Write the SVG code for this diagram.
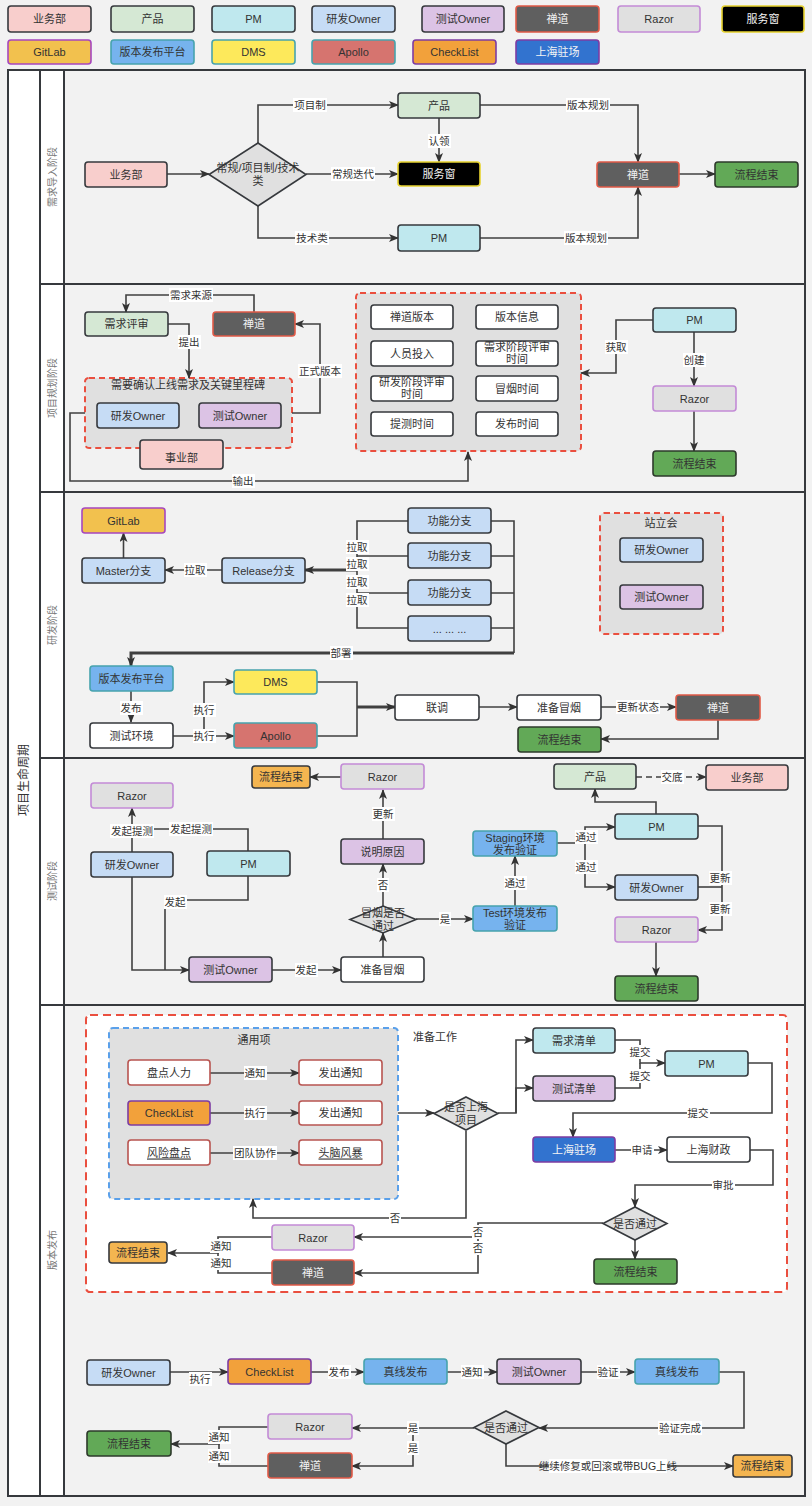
<svg xmlns="http://www.w3.org/2000/svg" width="812" height="1506" viewBox="0 0 812 1506">
<defs>
<marker id="ar" markerWidth="10" markerHeight="8" refX="9" refY="4" orient="auto" markerUnits="userSpaceOnUse">
<path d="M0,0 L10,4 L0,8 L2.5,4 z" fill="#333"/>
</marker>
<style>
text{font-family:"Liberation Sans","Noto Sans CJK SC",sans-serif;font-size:11px;fill:#333;text-anchor:middle;dominant-baseline:central}
.tw{fill:#f4f4f4}
.n rect,.n path{stroke-width:1.6}
.biz{fill:#f8cecc;stroke:#36393d}
.prod{fill:#d5e8d4;stroke:#36393d}
.pm{fill:#bfe8ee;stroke:#36393d}
.dev{fill:#c6dcf5;stroke:#36393d}
.qa{fill:#dcc3e5;stroke:#36393d}
.zen{fill:#5f5f5f;stroke:#e05a47}
.razor{fill:#e0e0e0;stroke:#c38bd6}
.svc{fill:#000;stroke:#e6d22f}
.git{fill:#f2c14e;stroke:#a646be}
.plat{fill:#76b3ee;stroke:#47a3ad}
.dms{fill:#fde95b;stroke:#47a3ad}
.apollo{fill:#d6746f;stroke:#47a3ad}
.ck{fill:#f2a13b;stroke:#7d3ca3}
.sh{fill:#3273cf;stroke:#7d3ca3}
.endg{fill:#62a957;stroke:#2d3a2b}
.endo{fill:#f4b550;stroke:#36393d}
.w{fill:#fff;stroke:#36393d}
.wr{fill:#fff;stroke:#b85450}
.dia{fill:#e0e0e0;stroke:#36393d}
.grp{fill:#e0e0e0;stroke:#ea4f3f;stroke-width:2;stroke-dasharray:6 4}
.grpw{fill:#fff;stroke:#ea4f3f;stroke-width:2;stroke-dasharray:8 5}
.grpb{fill:#e0e0e0;stroke:#5aa0ea;stroke-width:2;stroke-dasharray:6 4}
.c path{fill:none;stroke:#404040;stroke-width:1.6}
.c path.a{marker-end:url(#ar)}
.c path.k{stroke-width:3}
.c path.d{stroke-dasharray:6 4}
.lbl rect{fill:#fff;stroke:none}
.lbl text{font-size:10.5px}
.lane{fill:none;stroke:#36393d;stroke-width:2}
.ln{font-size:10px;fill:#777}
</style>
</defs>
<rect x="0" y="0" width="812" height="1506" fill="#f2f2f2"/>

<!-- legend -->
<g id="legend">
<g class="n" id="lg-biz"><rect class="biz" x="8" y="6" width="83" height="26" rx="3"/><text x="49.5" y="19">业务部</text></g>
<g class="n" id="lg-prod"><rect class="prod" x="111" y="6" width="83" height="26" rx="3"/><text x="152.5" y="19">产品</text></g>
<g class="n" id="lg-pm"><rect class="pm" x="212" y="6" width="83" height="26" rx="3"/><text x="253.5" y="19">PM</text></g>
<g class="n" id="lg-dev"><rect class="dev" x="312" y="6" width="83" height="26" rx="3"/><text x="353.5" y="19">研发Owner</text></g>
<g class="n" id="lg-qa"><rect class="qa" x="422" y="6" width="82" height="26" rx="3"/><text x="463" y="19">测试Owner</text></g>
<g class="n" id="lg-zen"><rect class="zen" x="516" y="6" width="83" height="26" rx="3"/><text class="tw" x="557.5" y="19">禅道</text></g>
<g class="n" id="lg-razor"><rect class="razor" x="618" y="6" width="82" height="26" rx="3"/><text x="659" y="19">Razor</text></g>
<g class="n" id="lg-svc"><rect class="svc" x="722" y="6" width="82" height="26" rx="3"/><text class="tw" x="763" y="19">服务窗</text></g>
<g class="n" id="lg-git"><rect class="git" x="8" y="40" width="83" height="24" rx="3"/><text x="49.5" y="52">GitLab</text></g>
<g class="n" id="lg-plat"><rect class="plat" x="111" y="40" width="83" height="24" rx="3"/><text x="152.5" y="52">版本发布平台</text></g>
<g class="n" id="lg-dms"><rect class="dms" x="212" y="40" width="83" height="24" rx="3"/><text x="253.5" y="52">DMS</text></g>
<g class="n" id="lg-apollo"><rect class="apollo" x="312" y="40" width="83" height="24" rx="3"/><text x="353.5" y="52">Apollo</text></g>
<g class="n" id="lg-ck"><rect class="ck" x="413" y="40" width="83" height="24" rx="3"/><text x="454.5" y="52">CheckList</text></g>
<g class="n" id="lg-sh"><rect class="sh" x="516" y="40" width="83" height="24" rx="3"/><text class="tw" x="557.5" y="52">上海驻场</text></g>
</g>

<!-- lanes -->
<g id="lanes">
<rect x="8" y="70" width="797" height="1426" fill="#f2f2f2" stroke="none"/>
<rect x="8" y="70" width="56" height="1426" fill="#fff" stroke="none"/>
<rect class="lane" x="8" y="70" width="797" height="1426"/>
<path class="lane" d="M40,70 V1496 M64,70 V1496 M40,284 H805 M40,492 H805 M40,758 H805 M40,1005 H805"/>
<text x="24" y="780" transform="rotate(-90 24 780)" style="font-size:12px">项目生命周期</text>
<text class="ln" x="52" y="177" transform="rotate(-90 52 177)">需求导入阶段</text>
<text class="ln" x="52" y="388" transform="rotate(-90 52 388)">项目规划阶段</text>
<text class="ln" x="52" y="625" transform="rotate(-90 52 625)">研发阶段</text>
<text class="ln" x="52" y="881" transform="rotate(-90 52 881)">测试阶段</text>
<text class="ln" x="52" y="1250" transform="rotate(-90 52 1250)">版本发布</text>
</g>

<!-- containers -->
<g id="grp-milestone"><rect class="grp" x="85" y="378" width="207" height="70" rx="4"/><text x="188" y="385">需要确认上线需求及关键里程碑</text></g>
<g id="grp-info"><rect class="grp" x="356" y="293" width="225" height="158" rx="4"/></g>
<g id="grp-standup"><rect class="grp" x="600" y="513" width="123" height="121" rx="4"/><text x="661" y="523">站立会</text></g>
<g id="grp-release"><rect class="grpw" x="86" y="1015" width="701" height="277" rx="4"/><text x="435" y="1037">准备工作</text></g>
<g id="grp-common"><rect class="grpb" x="109" y="1028" width="289" height="171" rx="4"/><text x="254" y="1040">通用项</text></g>

<!-- connectors -->
<g id="connectors" class="c">
<!-- section 1 -->
<path class="a" d="M167,174 L209,174"/>
<path class="a" d="M258,143 L258,105 L398,105"/>
<path class="a" d="M306,174 L398,174"/>
<path class="a" d="M258,206 L258,238 L398,238"/>
<path class="a" d="M439,118 L439,162"/>
<path class="a" d="M480,105 L638,105 L638,162"/>
<path class="a" d="M480,238 L638,238 L638,187"/>
<path class="a" d="M679,174 L715,174"/>
<!-- section 2 -->
<path class="a" d="M254,312 L254,295 L126,295 L126,312"/>
<path class="a" d="M168,324 L189,324 L189,378"/>
<path class="a" d="M292,413 L320,413 L320,324 L295,324"/>
<path class="a" d="M85,413 L70,413 L70,481 L468,481 L468,452"/>
<path class="a" d="M653,320 L616,320 L616,373 L581,373"/>
<path class="a" d="M694,332 L694,386"/>
<path class="a" d="M694,411 L694,451"/>
<!-- section 3 -->
<path class="a" d="M123.5,558 L123.5,533"/>
<path class="a" d="M222,570 L165,570"/>
<path d="M408,521 L357,521 L357,628 L408,628 M408,556 L357,556 M408,593 L357,593"/>
<path class="a k" d="M357,570 L305,570"/>
<path d="M491,521 L514,521 L514,653 M491,556 L514,556 M491,593 L514,593 M491,628 L514,628"/>
<path class="a k" d="M514,653 L131,653 L131,666"/>
<path class="a" d="M131,691 L131,722"/>
<path class="a" d="M173,736 L234,736"/>
<path class="a" d="M204,736 L204,682 L234,682"/>
<path d="M317,682 L357,682 L357,736 L317,736"/>
<path class="a k" d="M357,707 L395,707"/>
<path class="a" d="M479,707 L517,707"/>
<path class="a" d="M601,707 L676,707"/>
<path class="a" d="M718,720 L718,739 L601,739"/>
<!-- section 4 -->
<path class="a" d="M132,852 L132,808"/>
<path d="M248,851 L248,829 L132,829"/>
<path class="a" d="M132,877 L132,970 L189,970"/>
<path d="M248,876 L248,900 L165,900 L165,970"/>
<path class="a" d="M272,970 L341,970"/>
<path class="a" d="M383,957 L383,933"/>
<path class="a" d="M383,907 L383,864"/>
<path class="a" d="M383,839 L383,790"/>
<path class="a" d="M341,777 L310,777"/>
<path class="a" d="M416,919 L473,919"/>
<path class="a" d="M515,906 L515,856"/>
<path class="a" d="M557,843 L585,843 L585,827 L615,827"/>
<path class="a" d="M585,843 L585,887 L615,887"/>
<path class="a d" d="M636,777 L706,777"/>
<path class="a" d="M656,814 L656,802 L595,802 L595,789"/>
<path class="a" d="M698,826 L722,826 L722,930 L698,930"/>
<path d="M698,887 L722,887"/>
<path class="a" d="M656,942 L656,976"/>
<!-- section 5 -->
<path class="a" d="M210,1073 L299,1073"/>
<path class="a" d="M210,1113 L299,1113"/>
<path class="a" d="M210,1153 L299,1153"/>
<path class="a" d="M398,1113 L434,1113"/>
<path class="a" d="M498,1113 L516,1113 L516,1040 L533,1040"/>
<path class="a" d="M516,1113 L516,1088 L533,1088"/>
<path class="a" d="M615,1040 L640,1040 L640,1063 L665,1063"/>
<path d="M615,1088 L640,1088 L640,1063"/>
<path class="a" d="M748,1063 L772,1063 L772,1113 L573,1113 L573,1137"/>
<path class="a" d="M615,1150 L667,1150"/>
<path class="a" d="M750,1150 L773,1150 L773,1185 L635,1185 L635,1207"/>
<path class="a" d="M635,1240 L635,1259"/>
<path class="a" d="M603,1223 L478,1223 L478,1237 L354,1237"/>
<path class="a" d="M478,1237 L478,1273 L354,1273"/>
<path class="a" d="M466,1131 L466,1218 L253,1218 L253,1199"/>
<path class="a" d="M272,1237 L218,1237 L218,1253 L168,1253"/>
<path d="M272,1273 L218,1273 L218,1253"/>
<path class="a" d="M170,1372 L228,1372"/>
<path class="a" d="M311,1372 L364,1372"/>
<path class="a" d="M447,1372 L497,1372"/>
<path class="a" d="M581,1372 L635,1372"/>
<path class="a" d="M719,1372 L744,1372 L744,1428 L539,1428"/>
<path class="a" d="M474,1428 L352,1428"/>
<path class="a" d="M413,1428 L413,1466 L352,1466"/>
<path class="a" d="M268,1427 L219,1427 L219,1444 L171,1444"/>
<path d="M268,1466 L219,1466 L219,1444"/>
<path class="a" d="M506,1444 L506,1466 L733,1466"/>

<!-- labels -->
<g class="lbl"><rect x="293" y="98" width="34" height="14"/><text x="310" y="105">项目制</text></g>
<g class="lbl"><rect x="331" y="167" width="44" height="14"/><text x="353" y="174">常规迭代</text></g>
<g class="lbl"><rect x="295" y="231" width="34" height="14"/><text x="312" y="238">技术类</text></g>
<g class="lbl"><rect x="428" y="134" width="23" height="14"/><text x="439" y="141">认领</text></g>
<g class="lbl"><rect x="566" y="98" width="44" height="14"/><text x="588" y="105">版本规划</text></g>
<g class="lbl"><rect x="564" y="231" width="44" height="14"/><text x="586" y="238">版本规划</text></g>
<g class="lbl"><rect x="169" y="288" width="44" height="14"/><text x="191" y="295">需求来源</text></g>
<g class="lbl"><rect x="178" y="335" width="23" height="14"/><text x="189" y="342">提出</text></g>
<g class="lbl"><rect x="298" y="364" width="44" height="14"/><text x="320" y="371">正式版本</text></g>
<g class="lbl"><rect x="232" y="474" width="23" height="14"/><text x="243" y="481">输出</text></g>
<g class="lbl"><rect x="605" y="340" width="23" height="14"/><text x="616" y="347">获取</text></g>
<g class="lbl"><rect x="683" y="353" width="23" height="14"/><text x="694" y="360">创建</text></g>
<g class="lbl"><rect x="184" y="563" width="23" height="14"/><text x="195" y="570">拉取</text></g>
<g class="lbl"><rect x="346" y="540" width="23" height="14"/><text x="357" y="547">拉取</text></g>
<g class="lbl"><rect x="346" y="557" width="23" height="14"/><text x="357" y="564">拉取</text></g>
<g class="lbl"><rect x="346" y="575" width="23" height="14"/><text x="357" y="582">拉取</text></g>
<g class="lbl"><rect x="346" y="593" width="23" height="14"/><text x="357" y="600">拉取</text></g>
<g class="lbl"><rect x="330" y="646" width="23" height="14"/><text x="341" y="653">部署</text></g>
<g class="lbl"><rect x="120" y="701" width="23" height="14"/><text x="131" y="708">发布</text></g>
<g class="lbl"><rect x="193" y="703" width="23" height="14"/><text x="204" y="710">执行</text></g>
<g class="lbl"><rect x="193" y="729" width="23" height="14"/><text x="204" y="736">执行</text></g>
<g class="lbl"><rect x="616" y="700" width="44" height="14"/><text x="638" y="707">更新状态</text></g>
<g class="lbl"><rect x="110" y="824" width="44" height="14"/><text x="132" y="831">发起提测</text></g>
<g class="lbl"><rect x="169" y="822" width="44" height="14"/><text x="191" y="829">发起提测</text></g>
<g class="lbl"><rect x="164" y="895" width="23" height="14"/><text x="175" y="902">发起</text></g>
<g class="lbl"><rect x="295" y="963" width="23" height="14"/><text x="306" y="970">发起</text></g>
<g class="lbl"><rect x="377" y="878" width="12" height="14"/><text x="383" y="885">否</text></g>
<g class="lbl"><rect x="372" y="807" width="23" height="14"/><text x="383" y="814">更新</text></g>
<g class="lbl"><rect x="439" y="912" width="12" height="14"/><text x="445" y="919">是</text></g>
<g class="lbl"><rect x="504" y="876" width="23" height="14"/><text x="515" y="883">通过</text></g>
<g class="lbl"><rect x="575" y="830" width="23" height="14"/><text x="586" y="837">通过</text></g>
<g class="lbl"><rect x="575" y="860" width="23" height="14"/><text x="586" y="867">通过</text></g>
<g class="lbl"><rect x="661" y="770" width="23" height="14"/><text x="672" y="777">交底</text></g>
<g class="lbl"><rect x="709" y="871" width="23" height="14"/><text x="720" y="878">更新</text></g>
<g class="lbl"><rect x="709" y="902" width="23" height="14"/><text x="720" y="909">更新</text></g>
<g class="lbl"><rect x="244" y="1066" width="23" height="14"/><text x="255" y="1073">通知</text></g>
<g class="lbl"><rect x="244" y="1106" width="23" height="14"/><text x="255" y="1113">执行</text></g>
<g class="lbl"><rect x="233" y="1146" width="44" height="14"/><text x="255" y="1153">团队协作</text></g>
<g class="lbl"><rect x="629" y="1045" width="23" height="14"/><text x="640" y="1052">提交</text></g>
<g class="lbl"><rect x="629" y="1069" width="23" height="14"/><text x="640" y="1076">提交</text></g>
<g class="lbl"><rect x="687" y="1106" width="23" height="14"/><text x="698" y="1113">提交</text></g>
<g class="lbl"><rect x="631" y="1143" width="23" height="14"/><text x="642" y="1150">申请</text></g>
<g class="lbl"><rect x="712" y="1178" width="23" height="14"/><text x="723" y="1185">审批</text></g>
<g class="lbl"><rect x="472" y="1225" width="12" height="14"/><text x="478" y="1232">否</text></g>
<g class="lbl"><rect x="472" y="1241" width="12" height="14"/><text x="478" y="1248">否</text></g>
<g class="lbl"><rect x="389" y="1211" width="12" height="14"/><text x="395" y="1218">否</text></g>
<g class="lbl"><rect x="210" y="1239" width="23" height="14"/><text x="221" y="1246">通知</text></g>
<g class="lbl"><rect x="210" y="1256" width="23" height="14"/><text x="221" y="1263">通知</text></g>
<g class="lbl"><rect x="189" y="1372" width="23" height="14"/><text x="200" y="1379">执行</text></g>
<g class="lbl"><rect x="328" y="1365" width="23" height="14"/><text x="339" y="1372">发布</text></g>
<g class="lbl"><rect x="461" y="1365" width="23" height="14"/><text x="472" y="1372">通知</text></g>
<g class="lbl"><rect x="597" y="1365" width="23" height="14"/><text x="608" y="1372">验证</text></g>
<g class="lbl"><rect x="658" y="1421" width="44" height="14"/><text x="680" y="1428">验证完成</text></g>
<g class="lbl"><rect x="407" y="1421" width="12" height="14"/><text x="413" y="1428">是</text></g>
<g class="lbl"><rect x="407" y="1441" width="12" height="14"/><text x="413" y="1448">是</text></g>
<g class="lbl"><rect x="208" y="1430" width="23" height="14"/><text x="219" y="1437">通知</text></g>
<g class="lbl"><rect x="208" y="1449" width="23" height="14"/><text x="219" y="1456">通知</text></g>
<g class="lbl"><rect x="549" y="1459" width="118" height="14"/><text x="608" y="1466">继续修复或回滚或带BUG上线</text></g>
</g>

<!-- section 1 nodes -->
<g class="n" id="s1-biz"><rect class="biz" x="85" y="162" width="82" height="25" rx="3"/><text x="126" y="174.5">业务部</text></g>
<g class="n" id="s1-dec"><path class="dia" d="M258,143 L306,174.5 L258,206 L209,174.5 z"/><text x="258" y="168">常规/项目制/技术</text><text x="258" y="181">类</text></g>
<g class="n" id="s1-prod"><rect class="prod" x="398" y="93" width="82" height="25" rx="3"/><text x="439" y="105.5">产品</text></g>
<g class="n" id="s1-svc"><rect class="svc" x="398" y="162" width="82" height="24" rx="3"/><text class="tw" x="439" y="174">服务窗</text></g>
<g class="n" id="s1-pm"><rect class="pm" x="398" y="225" width="82" height="26" rx="3"/><text x="439" y="238">PM</text></g>
<g class="n" id="s1-zen"><rect class="zen" x="597" y="162" width="82" height="25" rx="3"/><text class="tw" x="638" y="174.5">禅道</text></g>
<g class="n" id="s1-end"><rect class="endg" x="715" y="162" width="83" height="25" rx="3"/><text x="756.5" y="174.5">流程结束</text></g>

<!-- section 2 nodes -->
<g class="n" id="s2-review"><rect class="prod" x="85" y="312" width="83" height="24" rx="3"/><text x="126.5" y="324">需求评审</text></g>
<g class="n" id="s2-zen"><rect class="zen" x="213" y="312" width="82" height="24" rx="3"/><text class="tw" x="254" y="324">禅道</text></g>
<g class="n" id="s2-biz"><rect class="biz" x="140" y="440" width="83" height="29" rx="3"/><text x="181.5" y="458">事业部</text></g>
<g class="n" id="s2-dev"><rect class="dev" x="97" y="403" width="82" height="25" rx="3"/><text x="138" y="415.5">研发Owner</text></g>
<g class="n" id="s2-qa"><rect class="qa" x="199" y="403" width="82" height="25" rx="3"/><text x="240" y="415.5">测试Owner</text></g>
<g class="n" id="s2-i1"><rect class="w" x="371" y="305" width="82" height="24" rx="3"/><text x="412" y="317">禅道版本</text></g>
<g class="n" id="s2-i2"><rect class="w" x="476" y="305" width="82" height="24" rx="3"/><text x="517" y="317">版本信息</text></g>
<g class="n" id="s2-i3"><rect class="w" x="371" y="341" width="82" height="25" rx="3"/><text x="412" y="353.5">人员投入</text></g>
<g class="n" id="s2-i4"><rect class="w" x="476" y="341" width="82" height="25" rx="3"/><text x="517" y="347">需求阶段评审</text><text x="517" y="359">时间</text></g>
<g class="n" id="s2-i5"><rect class="w" x="371" y="376" width="82" height="25" rx="3"/><text x="412" y="382">研发阶段评审</text><text x="412" y="394">时间</text></g>
<g class="n" id="s2-i6"><rect class="w" x="476" y="376" width="82" height="25" rx="3"/><text x="517" y="388.5">冒烟时间</text></g>
<g class="n" id="s2-i7"><rect class="w" x="371" y="412" width="82" height="24" rx="3"/><text x="412" y="424">提测时间</text></g>
<g class="n" id="s2-i8"><rect class="w" x="476" y="412" width="82" height="24" rx="3"/><text x="517" y="424">发布时间</text></g>
<g class="n" id="s2-pm"><rect class="pm" x="653" y="308" width="83" height="24" rx="3"/><text x="694.5" y="320">PM</text></g>
<g class="n" id="s2-razor"><rect class="razor" x="653" y="386" width="83" height="25" rx="3"/><text x="694.5" y="398.5">Razor</text></g>
<g class="n" id="s2-end"><rect class="endg" x="653" y="451" width="83" height="25" rx="3"/><text x="694.5" y="463.5">流程结束</text></g>

<!-- section 3 nodes -->
<g class="n" id="s3-git"><rect class="git" x="82" y="508" width="83" height="25" rx="3"/><text x="123.5" y="520.5">GitLab</text></g>
<g class="n" id="s3-master"><rect class="dev" x="82" y="558" width="83" height="25" rx="3"/><text x="123.5" y="570.5">Master分支</text></g>
<g class="n" id="s3-release"><rect class="dev" x="222" y="558" width="83" height="25" rx="3"/><text x="263.5" y="570.5">Release分支</text></g>
<g class="n" id="s3-f1"><rect class="dev" x="408" y="508" width="83" height="25" rx="3"/><text x="449.5" y="520.5">功能分支</text></g>
<g class="n" id="s3-f2"><rect class="dev" x="408" y="543" width="83" height="25" rx="3"/><text x="449.5" y="555.5">功能分支</text></g>
<g class="n" id="s3-f3"><rect class="dev" x="408" y="580" width="83" height="25" rx="3"/><text x="449.5" y="592.5">功能分支</text></g>
<g class="n" id="s3-f4"><rect class="dev" x="408" y="616" width="83" height="25" rx="3"/><text x="449.5" y="628.5">... ... ...</text></g>
<g class="n" id="s3-dev"><rect class="dev" x="620" y="538" width="83" height="24" rx="3"/><text x="661.5" y="550">研发Owner</text></g>
<g class="n" id="s3-qa"><rect class="qa" x="620" y="585" width="83" height="24" rx="3"/><text x="661.5" y="597">测试Owner</text></g>
<g class="n" id="s3-plat"><rect class="plat" x="90" y="666" width="83" height="25" rx="3"/><text x="131.5" y="678.5">版本发布平台</text></g>
<g class="n" id="s3-env"><rect class="w" x="90" y="723" width="83" height="25" rx="3"/><text x="131.5" y="735.5">测试环境</text></g>
<g class="n" id="s3-dms"><rect class="dms" x="234" y="670" width="83" height="24" rx="3"/><text x="275.5" y="682">DMS</text></g>
<g class="n" id="s3-apollo"><rect class="apollo" x="234" y="723" width="83" height="25" rx="3"/><text x="275.5" y="735.5">Apollo</text></g>
<g class="n" id="s3-joint"><rect class="w" x="395" y="695" width="84" height="25" rx="3"/><text x="437" y="707.5">联调</text></g>
<g class="n" id="s3-smoke"><rect class="w" x="517" y="695" width="84" height="25" rx="3"/><text x="559" y="707.5">准备冒烟</text></g>
<g class="n" id="s3-zen"><rect class="zen" x="676" y="695" width="84" height="25" rx="3"/><text class="tw" x="718" y="707.5">禅道</text></g>
<g class="n" id="s3-end"><rect class="endg" x="518" y="727" width="83" height="25" rx="3"/><text x="559.5" y="739.5">流程结束</text></g>

<!-- section 4 nodes -->
<g class="n" id="s4-razor1"><rect class="razor" x="91" y="783" width="82" height="25" rx="3"/><text x="132" y="795.5">Razor</text></g>
<g class="n" id="s4-dev"><rect class="dev" x="91" y="852" width="82" height="25" rx="3"/><text x="132" y="864.5">研发Owner</text></g>
<g class="n" id="s4-pm"><rect class="pm" x="207" y="851" width="83" height="25" rx="3"/><text x="248.5" y="863.5">PM</text></g>
<g class="n" id="s4-qa"><rect class="qa" x="189" y="957" width="83" height="25" rx="3"/><text x="230.5" y="969.5">测试Owner</text></g>
<g class="n" id="s4-smoke"><rect class="w" x="341" y="957" width="83" height="25" rx="3"/><text x="382.5" y="969.5">准备冒烟</text></g>
<g class="n" id="s4-dec"><path class="dia" d="M383,906 L416,919.5 L383,933 L350,919.5 z"/><text x="383" y="913">冒烟是否</text><text x="383" y="926">通过</text></g>
<g class="n" id="s4-reason"><rect class="qa" x="341" y="839" width="83" height="25" rx="3"/><text x="382.5" y="851.5">说明原因</text></g>
<g class="n" id="s4-razor2"><rect class="razor" x="341" y="764" width="83" height="25" rx="3"/><text x="382.5" y="776.5">Razor</text></g>
<g class="n" id="s4-end1"><rect class="endo" x="252" y="766" width="58" height="22" rx="3"/><text x="281" y="777">流程结束</text></g>
<g class="n" id="s4-test"><rect class="plat" x="473" y="906" width="84" height="25" rx="3"/><text x="515" y="912.5">Test环境发布</text><text x="515" y="925">验证</text></g>
<g class="n" id="s4-staging"><rect class="plat" x="473" y="831" width="84" height="25" rx="3"/><text x="515" y="837.5">Staging环境</text><text x="515" y="850">发布验证</text></g>
<g class="n" id="s4-prod"><rect class="prod" x="554" y="764" width="82" height="25" rx="3"/><text x="595" y="776.5">产品</text></g>
<g class="n" id="s4-biz"><rect class="biz" x="706" y="765" width="82" height="25" rx="3"/><text x="747" y="777.5">业务部</text></g>
<g class="n" id="s4-pm2"><rect class="pm" x="615" y="814" width="83" height="25" rx="3"/><text x="656.5" y="826.5">PM</text></g>
<g class="n" id="s4-dev2"><rect class="dev" x="615" y="875" width="83" height="25" rx="3"/><text x="656.5" y="887.5">研发Owner</text></g>
<g class="n" id="s4-razor3"><rect class="razor" x="615" y="917" width="83" height="25" rx="3"/><text x="656.5" y="929.5">Razor</text></g>
<g class="n" id="s4-end2"><rect class="endg" x="615" y="976" width="83" height="25" rx="3"/><text x="656.5" y="988.5">流程结束</text></g>

<!-- section 5 nodes -->
<g class="n" id="s5-hr"><rect class="wr" x="128" y="1060" width="82" height="25" rx="3"/><text x="169" y="1072.5">盘点人力</text></g>
<g class="n" id="s5-n1"><rect class="wr" x="299" y="1060" width="83" height="25" rx="3"/><text x="340.5" y="1072.5">发出通知</text></g>
<g class="n" id="s5-ck"><rect class="ck" x="128" y="1101" width="82" height="24" rx="3"/><text x="169" y="1113">CheckList</text></g>
<g class="n" id="s5-n2"><rect class="wr" x="299" y="1101" width="83" height="24" rx="3"/><text x="340.5" y="1113">发出通知</text></g>
<g class="n" id="s5-risk"><rect class="wr" x="128" y="1140" width="82" height="25" rx="3"/><text x="169" y="1152.5" text-decoration="underline">风险盘点</text></g>
<g class="n" id="s5-brain"><rect class="wr" x="299" y="1140" width="83" height="25" rx="3"/><text x="340.5" y="1152.5" text-decoration="underline">头脑风暴</text></g>
<g class="n" id="s5-dec1"><path class="dia" d="M466,1097 L498,1113.5 L466,1130 L434,1113.5 z"/><text x="466" y="1107">是否上海</text><text x="466" y="1120">项目</text></g>
<g class="n" id="s5-req"><rect class="pm" x="533" y="1028" width="82" height="25" rx="3"/><text x="574" y="1040.5">需求清单</text></g>
<g class="n" id="s5-test"><rect class="qa" x="533" y="1076" width="82" height="25" rx="3"/><text x="574" y="1088.5">测试清单</text></g>
<g class="n" id="s5-pm"><rect class="pm" x="665" y="1051" width="83" height="25" rx="3"/><text x="706.5" y="1063.5">PM</text></g>
<g class="n" id="s5-sh"><rect class="sh" x="533" y="1137" width="82" height="25" rx="3"/><text class="tw" x="574" y="1149.5">上海驻场</text></g>
<g class="n" id="s5-fin"><rect class="w" x="667" y="1137" width="83" height="25" rx="3"/><text x="708.5" y="1149.5">上海财政</text></g>
<g class="n" id="s5-dec2"><path class="dia" d="M635,1207 L667,1223.5 L635,1240 L603,1223.5 z"/><text x="635" y="1223.5">是否通过</text></g>
<g class="n" id="s5-end1"><rect class="endg" x="594" y="1259" width="83" height="25" rx="3"/><text x="635.5" y="1271.5">流程结束</text></g>
<g class="n" id="s5-razor"><rect class="razor" x="272" y="1225" width="82" height="25" rx="3"/><text x="313" y="1237.5">Razor</text></g>
<g class="n" id="s5-zen"><rect class="zen" x="272" y="1260" width="82" height="25" rx="3"/><text class="tw" x="313" y="1272.5">禅道</text></g>
<g class="n" id="s5-end2"><rect class="endo" x="109" y="1242" width="58" height="21" rx="3"/><text x="138" y="1252.5">流程结束</text></g>
<g class="n" id="s5-dev"><rect class="dev" x="87" y="1360" width="83" height="25" rx="3"/><text x="128.5" y="1372.5">研发Owner</text></g>
<g class="n" id="s5-ck2"><rect class="ck" x="228" y="1359" width="83" height="25" rx="3"/><text x="269.5" y="1371.5">CheckList</text></g>
<g class="n" id="s5-live1"><rect class="plat" x="364" y="1359" width="83" height="25" rx="3"/><text x="405.5" y="1371.5">真线发布</text></g>
<g class="n" id="s5-qa"><rect class="qa" x="497" y="1359" width="84" height="25" rx="3"/><text x="539" y="1371.5">测试Owner</text></g>
<g class="n" id="s5-live2"><rect class="plat" x="635" y="1359" width="84" height="25" rx="3"/><text x="677" y="1371.5">真线发布</text></g>
<g class="n" id="s5-dec3"><path class="dia" d="M506,1411 L539,1427.5 L506,1444 L474,1427.5 z"/><text x="506" y="1427.5">是否通过</text></g>
<g class="n" id="s5-razor2"><rect class="razor" x="268" y="1414" width="84" height="25" rx="3"/><text x="310" y="1426.5">Razor</text></g>
<g class="n" id="s5-zen2"><rect class="zen" x="268" y="1453" width="84" height="25" rx="3"/><text class="tw" x="310" y="1465.5">禅道</text></g>
<g class="n" id="s5-end3"><rect class="endg" x="87" y="1431" width="84" height="25" rx="3"/><text x="129" y="1443.5">流程结束</text></g>
<g class="n" id="s5-end4"><rect class="endo" x="733" y="1455" width="59" height="22" rx="3"/><text x="762.5" y="1466">流程结束</text></g>
</svg>
